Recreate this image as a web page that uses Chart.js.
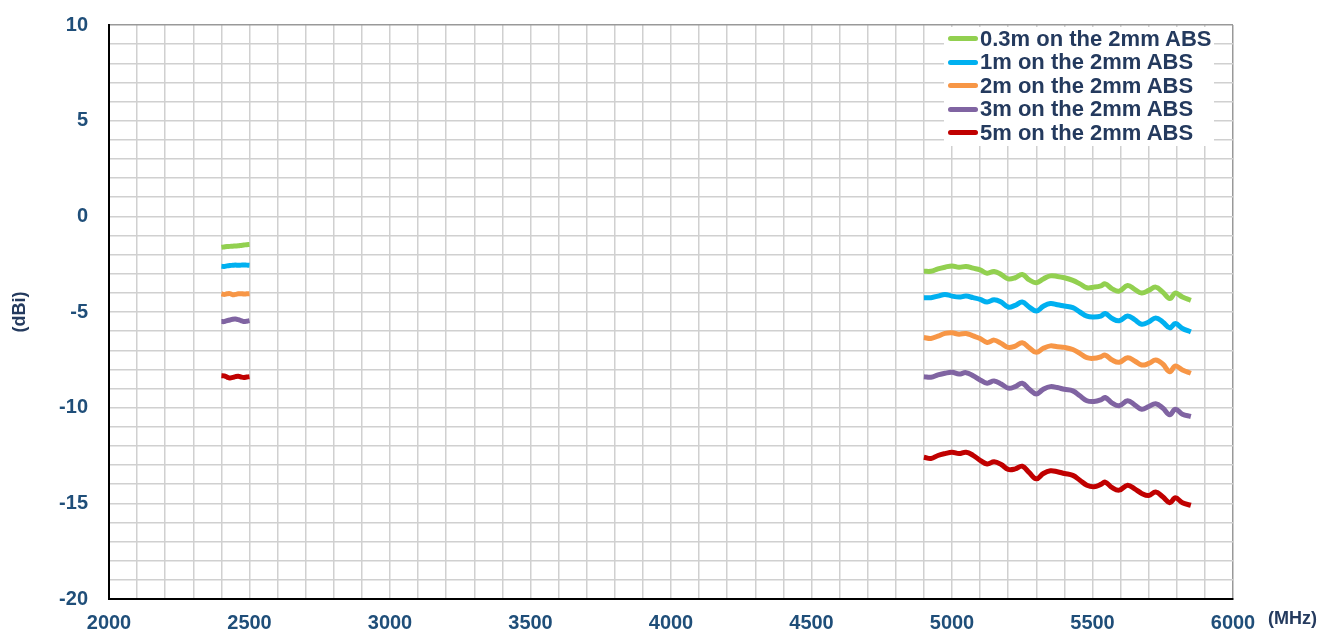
<!DOCTYPE html>
<html>
<head>
<meta charset="utf-8">
<script src="https://cdn.jsdelivr.net/npm/chart.js@4.4.1/dist/chart.umd.min.js"></script>
<style>
  body { margin: 0; background: #fff; }
  #wrap { position: relative; width: 1335px; height: 640px; }
  #legend {
    position: absolute; left: 944px; top: 27px; width: 270px; height: 119px;
    background: #fff; font: bold 22px "Liberation Sans", Arial, sans-serif; color: #243a5e;
  }
  .item { display: flex; align-items: center; height: 23.5px; white-space: nowrap; }
  .swatch { width: 30px; height: 5px; border-radius: 2.5px; margin: 0 2px 0 4px; }
</style>
</head>
<body>
<div id="wrap">
  <canvas id="chart" width="1335" height="640"></canvas>
  <div id="legend"></div>
</div>
<script>
// Data
const names = ["0.3m on the 2mm ABS", "1m on the 2mm ABS", "2m on the 2mm ABS", "3m on the 2mm ABS", "5m on the 2mm ABS"];
const colors = ["#92d050", "#00b0f0", "#f79646", "#8064a2", "#c00000"];

const lowFreq = [2400, 2410, 2420, 2430, 2440, 2450, 2460, 2470, 2480, 2490, 2500];
const low03 = [-1.62, -1.6, -1.58, -1.57, -1.56, -1.55, -1.54, -1.52, -1.5, -1.48, -1.47];
const low1 = [-2.61, -2.62, -2.59, -2.57, -2.56, -2.55, -2.56, -2.55, -2.54, -2.55, -2.56];
const low2 = [-4.05, -4.08, -4.05, -4.04, -4.1, -4.08, -4.05, -4.04, -4.06, -4.05, -4.04];
const low3 = [-5.5, -5.5, -5.45, -5.42, -5.38, -5.37, -5.4, -5.45, -5.5, -5.48, -5.45];
const low5 = [-8.33, -8.34, -8.4, -8.45, -8.42, -8.38, -8.36, -8.4, -8.42, -8.4, -8.38];

const highFreq = [4900, 4925, 4950, 4975, 5000, 5025, 5050, 5075, 5100, 5125, 5150, 5175, 5200, 5225, 5250, 5275, 5300, 5325, 5350, 5375,
  5400, 5430, 5455, 5480, 5505, 5530, 5545, 5570, 5595, 5625, 5650, 5675, 5700, 5725, 5750, 5775, 5795, 5820, 5850];
const high03 = [-2.87, -2.87, -2.75, -2.66, -2.59, -2.66, -2.62, -2.71, -2.8, -2.97, -2.88, -3.04, -3.27, -3.21, -3.04, -3.32, -3.47, -3.27, -3.11, -3.14,
  -3.21, -3.35, -3.53, -3.73, -3.7, -3.63, -3.53, -3.79, -3.91, -3.61, -3.82, -4.01, -3.87, -3.7, -3.96, -4.3, -4.01, -4.22, -4.39];
const high1 = [-4.25, -4.25, -4.17, -4.08, -4.17, -4.22, -4.17, -4.25, -4.34, -4.48, -4.36, -4.48, -4.74, -4.65, -4.48, -4.74, -4.95, -4.7, -4.56, -4.62,
  -4.69, -4.77, -5.0, -5.22, -5.26, -5.21, -5.08, -5.34, -5.46, -5.21, -5.4, -5.64, -5.52, -5.31, -5.52, -5.83, -5.6, -5.86, -6.04];
const high2 = [-6.33, -6.38, -6.26, -6.12, -6.09, -6.16, -6.12, -6.25, -6.38, -6.59, -6.47, -6.64, -6.85, -6.78, -6.61, -6.87, -7.11, -6.9, -6.77, -6.82,
  -6.85, -6.96, -7.16, -7.39, -7.42, -7.34, -7.25, -7.51, -7.63, -7.39, -7.56, -7.77, -7.69, -7.51, -7.72, -8.12, -7.82, -8.03, -8.2];
const high3 = [-8.38, -8.41, -8.29, -8.2, -8.15, -8.24, -8.17, -8.33, -8.55, -8.72, -8.6, -8.76, -8.98, -8.9, -8.72, -9.04, -9.28, -9.04, -8.9, -8.95,
  -9.04, -9.12, -9.38, -9.64, -9.68, -9.59, -9.47, -9.76, -9.9, -9.64, -9.85, -10.08, -9.94, -9.8, -10.02, -10.37, -10.08, -10.34, -10.46];
const high5 = [-12.59, -12.66, -12.5, -12.4, -12.33, -12.4, -12.33, -12.49, -12.75, -12.94, -12.83, -12.97, -13.23, -13.2, -13.06, -13.4, -13.72, -13.44, -13.3, -13.35,
  -13.44, -13.54, -13.79, -14.05, -14.13, -14.01, -13.89, -14.18, -14.31, -14.05, -14.24, -14.48, -14.59, -14.41, -14.66, -14.97, -14.71, -14.97, -15.1];

const lowSets = [low03, low1, low2, low3, low5];
const highSets = [high03, high1, high2, high3, high5];

// two bands in one dataset, broken by a null point
function points(lo, hi) {
  const a = lowFreq.map((f, i) => ({ x: f, y: lo[i] }));
  a.push({ x: 3700, y: null });
  return a.concat(highFreq.map((f, i) => ({ x: f, y: hi[i] })));
}

const tickColor = "#1f4e79";
const font = "'Liberation Sans', Arial, sans-serif";

const mhzLabel = {
  id: "mhz",
  afterDraw(c) {
    const g = c.ctx;
    g.save();
    g.font = "bold 18px " + font;
    g.fillStyle = "#243a5e";
    g.textBaseline = "middle";
    g.fillText("(MHz)", c.chartArea.right + 35, 619);
    g.restore();
  },
};

new Chart(document.getElementById("chart"), {
  type: "line",
  data: {
    datasets: names.map((n, k) => ({
      label: n,
      data: points(lowSets[k], highSets[k]),
      borderColor: colors[k],
      backgroundColor: colors[k],
      borderWidth: 5,
      tension: 0.4,
      pointRadius: 0,
      spanGaps: false,
    })),
  },
  options: {
    responsive: false,
    animation: false,
    layout: { padding: { top: 25, right: 102, left: 0, bottom: 0 } },
    plugins: { legend: { display: false }, tooltip: { enabled: false } },
    scales: {
      x: {
        type: "linear",
        min: 2000,
        max: 6000,
        afterFit: (s) => { s.height = 41; s.paddingLeft = 0; s.paddingRight = 0; },
        border: { color: "#000", width: 2 },
        grid: {
          drawTicks: false,
          lineWidth: 1.5,
          color: (c) => (c.tick && c.tick.value === 6000 ? "#999" : "#d0d0d0"),
        },
        ticks: {
          stepSize: 100,
          autoSkip: false,
          maxRotation: 0,
          padding: 12,
          color: tickColor,
          font: { family: font, size: 20, weight: "bold" },
          callback: (v) => (v % 500 === 0 ? v : ""),
        },
      },
      y: {
        min: -20,
        max: 10,
        afterFit: (s) => { s.width = 109; s.paddingTop = 0; s.paddingBottom = 0; },
        border: { color: "#000", width: 2 },
        grid: {
          drawTicks: false,
          lineWidth: 1.5,
          color: (c) => (c.tick && c.tick.value === 10 ? "#999" : "#d0d0d0"),
        },
        ticks: {
          stepSize: 1,
          autoSkip: false,
          padding: 21,
          color: tickColor,
          font: { family: font, size: 20, weight: "bold" },
          callback: (v) => (v % 5 === 0 ? v : ""),
        },
        title: {
          display: true,
          text: "(dBi)",
          color: "#243a5e",
          padding: { top: 9, bottom: 0 },
          font: { family: font, size: 18, weight: "bold" },
        },
      },
    },
  },
  plugins: [mhzLabel],
});

// Legend
const legend = document.getElementById("legend");
names.forEach((n, k) => {
  const row = document.createElement("div");
  row.className = "item";
  row.innerHTML = `<span class="swatch" style="background:${colors[k]}"></span><span>${n}</span>`;
  legend.appendChild(row);
});
</script>
</body>
</html>
